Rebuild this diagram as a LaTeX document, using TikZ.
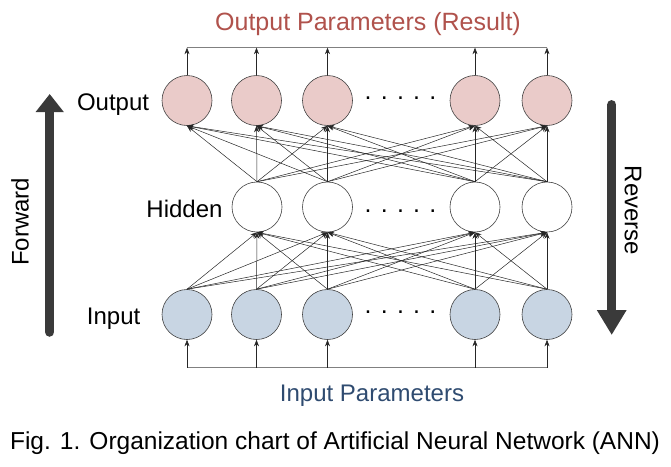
\documentclass[tikz,border=0pt]{standalone}
\usepackage{fontspec}
\setmainfont{Liberation Sans}
\usepackage{xcolor}
\usetikzlibrary{arrows.meta,positioning}
\definecolor{outfill}{HTML}{EACBC9}
\definecolor{infill}{HTML}{C8D5E3}
\definecolor{outtext}{HTML}{B0524C}
\definecolor{intext}{HTML}{2F4B70}
\definecolor{bigdark}{HTML}{3A3A3A}

\begin{document}
\begin{tikzpicture}[x=1pt,y=-1pt,>={Stealth[length=6.5pt,width=5pt]},
                    font=\fontsize{24}{28}\selectfont]
\tikzstyle{every node}=[]
\tikzstyle{neuron}=[circle,draw=black!75,line width=0.6pt,minimum size=50pt,inner sep=0pt]
\tikzstyle{outn}=[neuron,fill=outfill]
\tikzstyle{hidn}=[neuron,fill=white]
\tikzstyle{inn}=[neuron,fill=infill]
\tikzstyle{wire}=[->,line width=0.5pt,black!85]
\tikzstyle{bus}=[line width=0.8pt,black!50]
\tikzstyle{bigarrow}=[line width=9.5pt,bigdark,line cap=round]
\tikzstyle{dots}=[anchor=base,inner sep=0pt,font=\fontsize{25}{28}\selectfont]
\tikzstyle{lbl}=[anchor=base east,inner sep=0pt]

\useasboundingbox (0,0) rectangle (671,466);

% output layer
\node[outn] (O1) at (187,100.5) {};
\node[outn] (O2) at (256.5,100.5) {};
\node[outn] (O3) at (327.5,100.5) {};
\node[outn] (O4) at (475,100.5) {};
\node[outn] (O5) at (547,100.5) {};
\node[dots] (ODOTS) at (400.5,99.3) {. . . . .};
\node[lbl] (OLBL) at (149.3,110.3) {Output};

% hidden layer
\node[hidn] (H1) at (257,207) {};
\node[hidn] (H2) at (327.5,207) {};
\node[hidn] (H3) at (475,207) {};
\node[hidn] (H4) at (547,207) {};
\node[dots] (HDOTS) at (400.5,212.3) {. . . . .};
\node[lbl] (HLBL) at (222.7,217.4) {Hidden};

% input layer
\node[inn] (I1) at (187,314.5) {};
\node[inn] (I2) at (256.5,314.5) {};
\node[inn] (I3) at (327.5,314.5) {};
\node[inn] (I4) at (475,314.5) {};
\node[inn] (I5) at (547,314.5) {};
\node[dots] (IDOTS) at (400.5,313.6) {. . . . .};
\node[lbl] (ILBL) at (140.5,324.6) {Input};

\path[wire] (H1.north) edge (O1.south) edge (O2.south) edge (O3.south) edge (O4.south) edge (O5.south)
            (H2.north) edge (O1.south) edge (O2.south) edge (O3.south) edge (O4.south) edge (O5.south)
            (H3.north) edge (O1.south) edge (O2.south) edge (O3.south) edge (O4.south) edge (O5.south)
            (H4.north) edge (O1.south) edge (O2.south) edge (O3.south) edge (O4.south) edge (O5.south);
\path[wire] (I1.north) edge (H1.south) edge (H2.south) edge (H3.south) edge (H4.south)
            (I2.north) edge (H1.south) edge (H2.south) edge (H3.south) edge (H4.south)
            (I3.north) edge (H1.south) edge (H2.south) edge (H3.south) edge (H4.south)
            (I4.north) edge (H1.south) edge (H2.south) edge (H3.south) edge (H4.south)
            (I5.north) edge (H1.south) edge (H2.south) edge (H3.south) edge (H4.south);

% parameter lines
\coordinate (TOPL) at (187,47.7);
\coordinate (TOPR) at (547,47.7);
\draw[bus] (TOPL) -- (TOPR);
\draw[wire] (O1) -- (O1 |- TOPL);
\draw[wire] (O2) -- (O2 |- TOPL);
\draw[wire] (O3) -- (O3 |- TOPL);
\draw[wire] (O4) -- (O4 |- TOPL);
\draw[wire] (O5) -- (O5 |- TOPL);
\coordinate (BOTL) at (187,367.7);
\coordinate (BOTR) at (547,367.7);
\draw[bus] (BOTL) -- (BOTR);
\draw[wire] (I1 |- BOTL) -- (I1);
\draw[wire] (I2 |- BOTL) -- (I2);
\draw[wire] (I3 |- BOTL) -- (I3);
\draw[wire] (I4 |- BOTL) -- (I4);
\draw[wire] (I5 |- BOTL) -- (I5);

\node[anchor=base,text=outtext,font=\fontsize{25}{30}\selectfont] (TITLE) at (368,30) {Output Parameters (Result)};
\node[anchor=base,text=intext] (INPAR) at (372,401) {Input Parameters};

% direction arrows
\coordinate (FWDS) at (49.7,332);
\coordinate (FWDE) at (49.7,94);
\draw[bigarrow,-{Triangle[length=18pt,width=27pt]}] (FWDS) -- (FWDE);
\node[rotate=90] (FWD) at (20,221.7) {Forward};
\coordinate (REVS) at (611.7,104.8);
\coordinate (REVE) at (611.7,335);
\draw[bigarrow,-{Triangle[length=25pt,width=28pt]}] (REVS) -- (REVE);
\node[rotate=-90] (REV) at (633,210.5) {Reverse};

\node[anchor=base,font=\fontsize{24.5}{28}\selectfont] (CAPTION) at (335,449) {Fig. 1. Organization chart of Artificial Neural Network (ANN)};
\end{tikzpicture}
\end{document}
